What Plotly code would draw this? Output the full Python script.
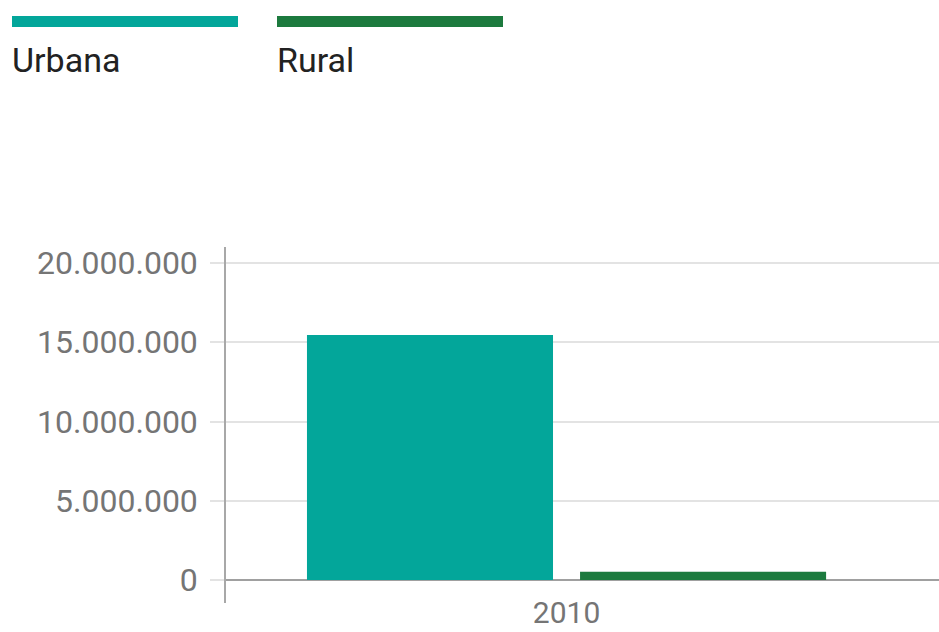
import plotly.graph_objects as go

categories = ["2010"]
series_names = ["Urbana", "Rural"]
urbana = [15464239]
rural = [525690]
colors = {"Urbana": "#03A69A", "Rural": "#1C7A3E"}
y_ticks = [0, 5000000, 10000000, 15000000, 20000000]

fig = go.Figure()
fig.add_trace(go.Bar(x=categories, y=urbana, name="Urbana",
                     marker=dict(color=colors["Urbana"], line=dict(width=0))))
fig.add_trace(go.Bar(x=categories, y=rural, name="Rural",
                     marker=dict(color=colors["Rural"], line=dict(width=0))))

font_family = "Roboto, 'Noto Sans', Arial, sans-serif"

fig.update_layout(
    width=939, height=632,
    margin=dict(l=226, r=0, t=247, b=29, pad=0, autoexpand=False),
    paper_bgcolor="white", plot_bgcolor="white",
    showlegend=False,
    barmode="group", bargap=0.234, bargroupgap=0.099,
    separators=",.",
    font=dict(family=font_family, size=31, color="#757575"),
)

fig.update_xaxes(
    type="category", range=[-0.4776, 0.5224], automargin=False,
    showline=False, showgrid=False, zeroline=False,
    ticks="", ticklabelstandoff=-11,
    tickfont=dict(size=30, color="#757575"),
)
fig.update_yaxes(
    range=[-1450000, 21010000], automargin=False,
    tickvals=y_ticks, tickformat=",.0f",
    showgrid=True, gridcolor="#E3E3E3", gridwidth=1.5,
    zeroline=True, zerolinecolor="#A0A0A0", zerolinewidth=1.5,
    showline=True, linecolor="#A8A8A8", linewidth=1.5,
    ticks="outside", ticklen=14, tickcolor="#E3E3E3", tickwidth=1.5,
    ticklabelstandoff=6,
    tickfont=dict(size=32, color="#757575"),
)

# Custom legend (line swatches with labels below)
legend_items = [("Urbana", 12, 238), ("Rural", 277, 503)]
for name, x0, x1 in legend_items:
    fig.add_shape(type="line", xref="paper", yref="paper",
                  x0=(x0 - 226) / 713, x1=(x1 - 226) / 713,
                  y0=(603 - 21.5) / 356, y1=(603 - 21.5) / 356,
                  line=dict(color=colors[name], width=11))
    fig.add_annotation(text=name, xref="paper", yref="paper",
                       x=(x0 - 226) / 713, y=(603 - 60) / 356,
                       xanchor="left", yanchor="middle", showarrow=False,
                       xshift=-2,
                       font=dict(family=font_family, size=34, color="#222222"))

fig.write_html("out.html", config={"displayModeBar": False},
               post_script="document.body.style.margin='0';")
